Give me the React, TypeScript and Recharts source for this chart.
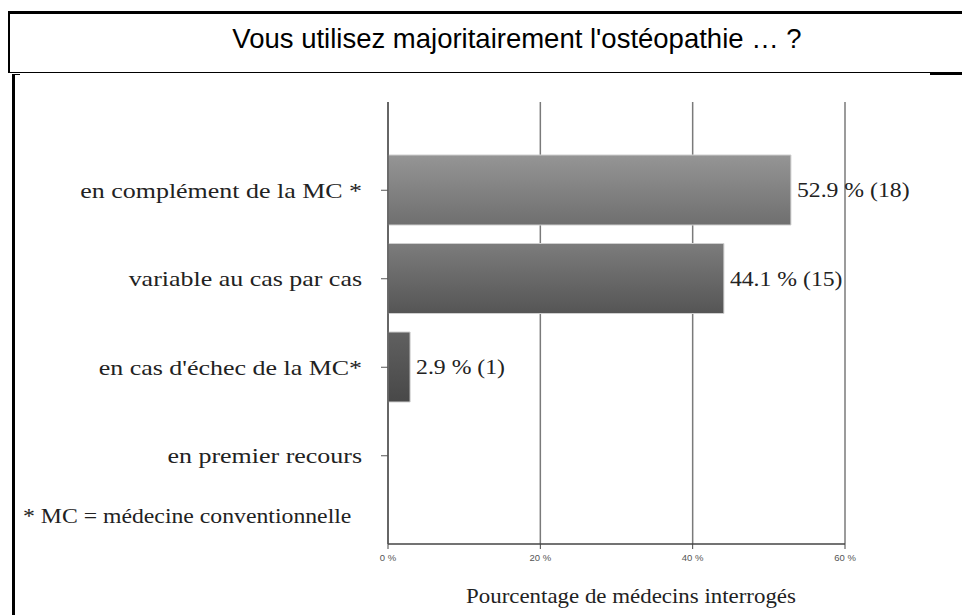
import { BarChart, Bar, XAxis, YAxis, CartesianGrid, Cell, LabelList } from "recharts";

const categories = [
  "en complément de la MC *",
  "variable au cas par cas",
  "en cas d'échec de la MC*",
  "en premier recours",
];
const percents = [52.9, 44.1, 2.9, 0];
const counts = [18, 15, 1, 0];
const xTicks = [0, 20, 40, 60];

const gradients = [
  ["#959595", "#6f6f6f"],
  ["#7c7c7c", "#555555"],
  ["#606060", "#484848"],
  ["#555555", "#444444"],
];

const data = categories.map((name, i) => ({
  name,
  value: percents[i],
  label: percents[i] > 0 ? `${percents[i]} % (${counts[i]})` : "",
}));

const serif = "'Liberation Serif', 'Times New Roman', serif";

// the source image is a bit stretched sideways, so serif text gets a scaleX
function CategoryTick(props: any) {
  const { x, y, payload } = props;
  return (
    <text
      transform={`translate(${x} ${y}) scale(1.18 1)`}
      textAnchor="end"
      dy="0.35em"
      fontFamily={serif}
      fontSize={22}
      fill="#222"
    >
      {payload.value}
    </text>
  );
}

function ValueLabel(props: any) {
  const { x, y, width, height, value } = props;
  if (!value) return null;
  return (
    <text
      transform={`translate(${x + width + 6} ${y + height / 2}) scale(1.13 1)`}
      dy="0.35em"
      fontFamily={serif}
      fontSize={21}
      fill="#222"
    >
      {value}
    </text>
  );
}

export default function App() {
  return (
    <div
      style={{
        position: "absolute",
        left: 0,
        top: 0,
        width: 962,
        height: 615,
        background: "#fff",
        overflow: "hidden",
      }}
    >
      {/* title box */}
      <div
        style={{
          position: "absolute",
          left: 8,
          top: 11,
          width: 960,
          height: 62,
          borderTop: "3px solid #000",
          borderLeft: "2px solid #000",
          borderBottom: "1px solid #000",
          boxSizing: "border-box",
        }}
      />
      <div
        style={{
          position: "absolute",
          left: 930,
          top: 73,
          width: 32,
          height: 2,
          background: "#000",
        }}
      />
      <div
        style={{
          position: "absolute",
          left: 42,
          top: 23,
          width: 950,
          textAlign: "center",
          fontFamily: "'Liberation Sans', Arial, sans-serif",
          fontSize: 27.5,
          color: "#000",
          whiteSpace: "nowrap",
        }}
      >
        Vous utilisez majoritairement l'ostéopathie … ?
      </div>
      {/* lower frame */}
      <div
        style={{
          position: "absolute",
          left: 12,
          top: 74,
          width: 3,
          height: 541,
          background: "#000",
        }}
      />
      <div
        style={{
          position: "absolute",
          left: 12,
          top: 74,
          width: 8,
          height: 1,
          background: "#000",
        }}
      />
      <div
        style={{
          position: "absolute",
          left: 23,
          top: 504,
          fontFamily: serif,
          fontSize: 21,
          color: "#222",
          whiteSpace: "nowrap",
          transform: "scaleX(1.13)",
          transformOrigin: "left center",
        }}
      >
        * MC = médecine conventionnelle
      </div>
      <div
        style={{
          position: "absolute",
          left: 331,
          top: 584,
          width: 600,
          textAlign: "center",
          fontFamily: serif,
          fontSize: 21,
          color: "#222",
          whiteSpace: "nowrap",
          transform: "scaleX(1.09)",
          transformOrigin: "center center",
        }}
      >
        Pourcentage de médecins interrogés
      </div>
      <div style={{ position: "absolute", left: 0, top: 0 }}>
        <BarChart
          width={962}
          height={615}
          data={data}
          layout="vertical"
          margin={{ top: 102, right: 117, bottom: 7, left: 88 }}
        >
          <defs>
            {gradients.map((g, i) => (
              <linearGradient key={i} id={`g${i}`} x1="0" y1="0" x2="0" y2="1">
                <stop offset="0%" stopColor={g[0]} />
                <stop offset="100%" stopColor={g[1]} />
              </linearGradient>
            ))}
          </defs>
          <CartesianGrid horizontal={false} stroke="#7a7a7a" strokeWidth={1.5} />
          <XAxis
            type="number"
            domain={[0, 60]}
            ticks={xTicks}
            tickFormatter={(v) => `${v} %`}
            axisLine={{ stroke: "#444", strokeWidth: 1.5 }}
            tickLine={{ stroke: "#444" }}
            tickSize={5}
            tick={{ fontSize: 9.5, fill: "#555", fontFamily: "'Liberation Sans', sans-serif", dy: 3 }}
            height={64}
          />
          <YAxis
            type="category"
            dataKey="name"
            width={300}
            padding={{ top: 44, bottom: 44 }}
            axisLine={{ stroke: "#555", strokeWidth: 1.5 }}
            tickLine={{ stroke: "#555" }}
            tickSize={7}
            tickMargin={19}
            tick={<CategoryTick />}
          />
          <Bar
            dataKey="value"
            barSize={70}
            stroke="#cfcfcf"
            strokeWidth={1}
            isAnimationActive={false}
          >
            {data.map((_, i) => (
              <Cell key={i} fill={`url(#g${i})`} />
            ))}
            <LabelList dataKey="label" content={<ValueLabel />} />
          </Bar>
        </BarChart>
      </div>
    </div>
  );
}
